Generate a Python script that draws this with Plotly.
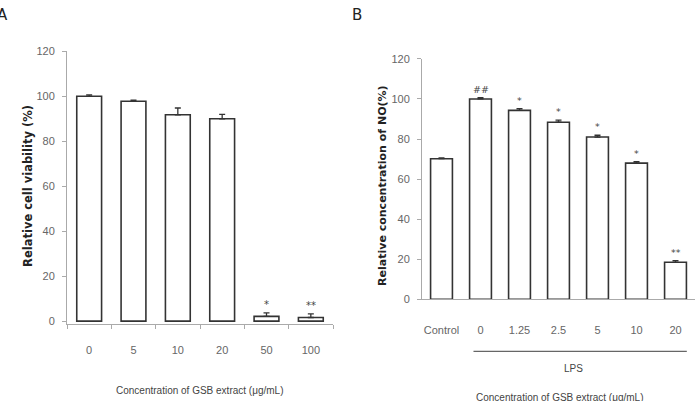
import plotly.graph_objects as go

# Panel A data
a_cats = ["0", "5", "10", "20", "50", "100"]
a_vals = [100, 97.8, 91.8, 90.0, 2.1, 1.6]
a_errs = [0.6, 0.5, 3.0, 2.0, 1.6, 1.6]
a_marks = ["", "", "", "", "*", "**"]

# Panel B data
b_cats = ["Control", "0", "1.25", "2.5", "5", "10", "20"]
b_vals = [70.2, 100, 94.3, 88.4, 81.0, 68.0, 18.5]
b_errs = [0.4, 0.6, 0.9, 1.0, 0.9, 0.7, 0.8]
b_marks = ["", "##", "*", "*", "*", "*", "**"]

H = 401.0
W = 696.0
def py(p):
    # convert target pixel row to paper fraction (compensates observed vertical fit)
    q = (p - 6.85) / 0.966
    return 1 - q / H
def px(p):
    return p / W

FONT = "Liberation Sans Narrow, Arial Narrow, Liberation Sans, Arial, sans-serif"
tick_font = dict(family=FONT, size=11, color="#666666")
bar_line = dict(color="#333333", width=1.6)

fig = go.Figure()
fig.add_trace(go.Bar(
    x=a_cats, y=a_vals, width=0.56, marker=dict(color="white", line=bar_line),
    error_y=dict(type="data", symmetric=False, array=a_errs, arrayminus=[0]*len(a_errs),
                 color="#333333", thickness=1.3, width=3),
    xaxis="x", yaxis="y", showlegend=False))
fig.add_trace(go.Bar(
    x=b_cats, y=b_vals, width=0.56, marker=dict(color="white", line=bar_line),
    error_y=dict(type="data", symmetric=False, array=b_errs, arrayminus=[0]*len(b_errs),
                 color="#333333", thickness=1.3, width=3),
    xaxis="x2", yaxis="y2", showlegend=False))

annotations = []
for i, (v, e, m) in enumerate(zip(a_vals, a_errs, a_marks)):
    if m:
        annotations.append(dict(x=i, y=v + e, xref="x", yref="y", text=m, showarrow=False,
                                yanchor="bottom", yshift=1,
                                font=dict(family="DejaVu Sans", size=10, color="#444444")))
for i, (v, e, m) in enumerate(zip(b_vals, b_errs, b_marks)):
    if m:
        annotations.append(dict(x=i, y=v + e, xref="x2", yref="y2", text=m, showarrow=False,
                                yanchor="bottom", yshift=1,
                                font=dict(family="DejaVu Sans", size=9.5, color="#444444")))

title_font = dict(family=FONT, size=10, color="#444444")
def pa(x, y, text, font, **kw):
    d = dict(x=px(x), y=py(y), xref="paper", yref="paper", showarrow=False, text=text,
             font=font, xanchor="center", yanchor="middle")
    d.update(kw)
    return d

annotations += [
    pa(200, 390, "Concentration of GSB extract (\u03bcg/mL)", title_font),
    pa(560, 397, "Concentration of GSB extract (\u03bcg/mL)", title_font),
    pa(573, 368, "LPS", title_font),
    pa(28, 186, "<b>Relative cell viability (%)</b>",
       dict(family="DejaVu Sans", size=11.5, color="#222222"), textangle=-90),
    pa(383, 186, "<b>Relative concentration of NO(%)</b>",
       dict(family="DejaVu Sans", size=11, color="#222222"), textangle=-90),
    pa(2, 16, "A", dict(family="DejaVu Sans", size=15, color="#222222")),
    pa(357, 16, "B", dict(family="DejaVu Sans", size=15, color="#222222")),
]

axis_line = "#aaaaaa"
fig.update_layout(
    width=696, height=401, margin=dict(l=0, r=0, t=0, b=0, pad=0),
    paper_bgcolor="white", plot_bgcolor="white",
    xaxis=dict(domain=[px(67), px(333)], type="category", range=[-0.5, len(a_cats) - 0.5],
               autorange=False, showline=True, linecolor=axis_line,
               linewidth=1, ticks="outside", tickson="boundaries", ticklen=4, tickcolor=axis_line,
               tickfont=tick_font, ticklabelstandoff=15, tickangle=0, showgrid=False, anchor="y"),
    yaxis=dict(domain=[py(324), py(52)], range=[-1.5, 120], autorange=False,
               tickvals=[0, 20, 40, 60, 80, 100, 120],
               showline=True, linecolor=axis_line, linewidth=1, ticks="outside", ticklen=4,
               tickcolor=axis_line, tickfont=tick_font, showgrid=False, zeroline=False,
               anchor="x", ticklabelstandoff=5),
    xaxis2=dict(domain=[px(422), px(695)], type="category", range=[-0.5, len(b_cats) - 0.5],
                autorange=False, showline=True, linecolor=axis_line,
                linewidth=1, ticks="", tickfont=tick_font, ticklabelstandoff=20, tickangle=0,
                showgrid=False, anchor="y2"),
    yaxis2=dict(domain=[py(299), py(59.5)], range=[0, 120], autorange=False,
                tickvals=[0, 20, 40, 60, 80, 100, 120],
                showline=True, linecolor=axis_line, linewidth=1, ticks="outside", ticklen=4,
                tickcolor=axis_line, tickfont=tick_font, showgrid=False, zeroline=False,
                anchor="x2", ticklabelstandoff=5),
    annotations=annotations,
    shapes=[dict(type="line", xref="x2", yref="paper", x0=0.82, x1=6.29,
                 y0=py(350.7), y1=py(350.7), line=dict(color="#666666", width=1.2))],
)

fig.write_html("out.html")
